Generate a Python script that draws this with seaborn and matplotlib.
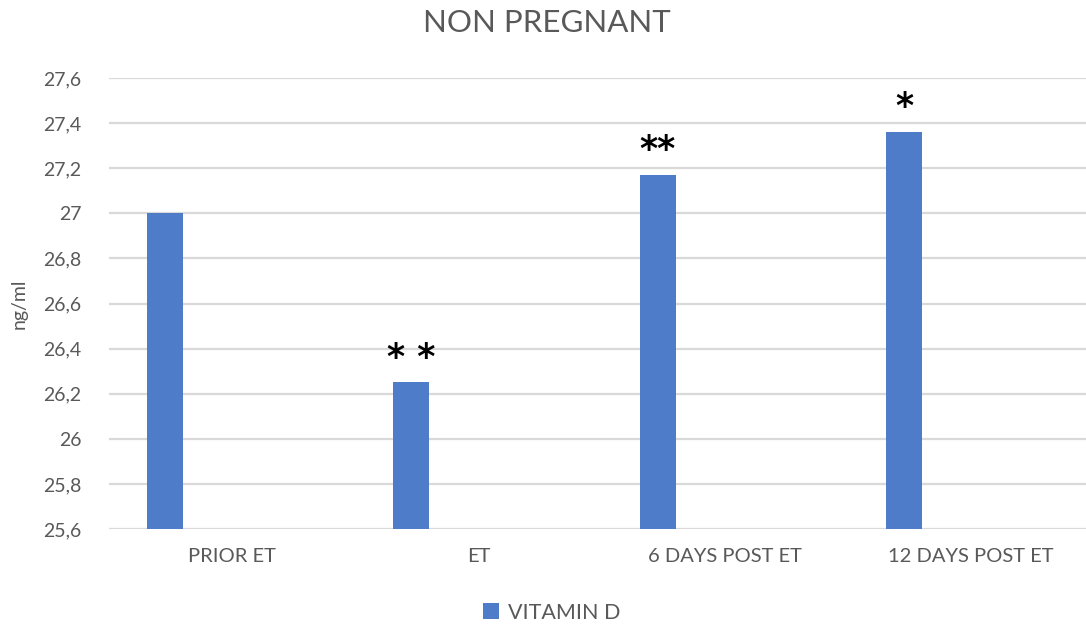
import matplotlib
matplotlib.use("Agg")
import matplotlib.pyplot as plt
from matplotlib.patches import Patch
import pandas as pd
import seaborn as sns

# Serum vitamin D in non-pregnant patients across the embryo-transfer timeline
categories = ["PRIOR ET", "ET", "6 DAYS POST ET", "12 DAYS POST ET"]
vitamin_d = [27.0, 26.25, 27.17, 27.36]
significance = ["", "* *", "**", "*"]
series_name = "VITAMIN D"
y_ticks = [25.6, 25.8, 26.0, 26.2, 26.4, 26.6, 26.8, 27.0, 27.2, 27.4, 27.6]
y_tick_labels = ["25,6", "25,8", "26", "26,2", "26,4", "26,6", "26,8", "27", "27,2", "27,4", "27,6"]

bar_color = "#4e7cc8"
text_gray = "#595959"
grid_gray = "#d9d9d9"

sns.set_theme(style="white")
plt.rcParams["font.family"] = ["Lato", "DejaVu Sans"]

# second, empty series reserves the right-hand slot in each category
df = pd.DataFrame({
    "time": categories * 2,
    "value": vitamin_d + [float("nan")] * len(categories),
    "series": [series_name] * len(categories) + ["_empty"] * len(categories),
})

fig = plt.figure(figsize=(10.86, 6.24), dpi=100)
ax = fig.add_axes([0.1004, 0.1522, 0.907, 0.7228])

sns.barplot(data=df, x="time", y="value", hue="series",
            hue_order=[series_name, "_empty"], order=categories,
            palette=[bar_color, bar_color], saturation=1,
            width=1.088, gap=0.732,
            dodge=True, errorbar=None, legend=False, ax=ax,
            linewidth=0, zorder=3)

ax.set_xlim(-0.5, len(categories) - 0.5)
ax.set_ylim(25.6, 27.6)
ax.set_yticks(y_ticks)
ax.set_yticklabels(y_tick_labels)
ax.yaxis.grid(True, color=grid_gray, linewidth=1.6, zorder=0)
ax.set_axisbelow(True)
for s in ax.spines.values():
    s.set_visible(False)
ax.tick_params(axis="both", length=0, colors=text_gray, labelsize=14)
ax.tick_params(axis="x", labelsize=14.5, pad=14)
ax.tick_params(axis="y", pad=20)
ax.set_xlabel("")
ax.set_ylabel("ng/ml", color=text_gray, fontsize=14, labelpad=11)

# significance markers above the bars
for patch, mark in zip(ax.patches, significance):
    if mark:
        cx = patch.get_x() + patch.get_width() / 2
        ax.text(cx, patch.get_height() + 0.035, mark, ha="center", va="bottom",
                fontsize=25, fontweight="bold", color="black",
                fontfamily="DejaVu Sans", zorder=4)

fig.text(0.504, 0.963, "NON PREGNANT", ha="center", va="center",
         fontsize=22.5, color=text_gray)

handles = [Patch(facecolor=bar_color, edgecolor="none")]
fig.legend(handles, [series_name], loc="center", bbox_to_anchor=(0.508, 0.018),
           frameon=False, fontsize=15.5, labelcolor=text_gray,
           handlelength=0.75, handleheight=0.75, handletextpad=0.4)

fig.savefig("out.png", dpi=100, facecolor="white")
